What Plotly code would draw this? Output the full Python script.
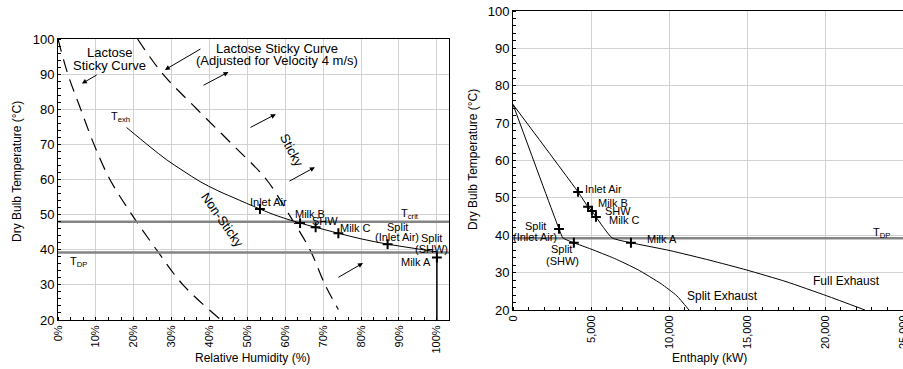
import plotly.graph_objects as go

W, H = 903, 369

# ---------------- Left chart data (Relative Humidity %) ----------------
RH_LACTOSE = [0, 2.6, 6, 9.5, 13.7, 19.5, 26, 33, 43]
T_LACTOSE = [100, 90, 80, 70, 60, 50, 40, 30, 20]

RH_ADJ = [21, 27.7, 36.7, 46, 55, 61, 66.5, 70.5, 74]
T_ADJ = [100, 90, 80, 70, 60, 50, 40, 30, 23]

RH_TEXH = [18.1, 24.3, 28.7, 33, 37.5, 42, 46.2, 53.3, 58, 63.9, 68, 74, 80, 87, 94, 100]
T_TEXH = [74.8, 69.3, 65.6, 62.5, 59.4, 56.9, 54.9, 51.6, 49.6, 47.6, 46.4, 44.7, 43.1, 41.6, 40.4, 39.4]

RH_POINTS = [53.3, 63.9, 68, 74, 87, 100]
T_POINTS_L = [51.6, 47.6, 46.4, 44.7, 41.6, 37.8]

RH_VLINE = [100, 100]
T_VLINE = [37.8, 20]

T_CRIT = 48
T_DP = 39.2

RH_TICKS = [0, 10, 20, 30, 40, 50, 60, 70, 80, 90, 100]
RH_TICKTEXT = ["0%", "10%", "20%", "30%", "40%", "50%", "60%", "70%", "80%", "90%", "100%"]

# ---------------- Right chart data (Enthalpy kW) ----------------
H_FULL = [0, 4170, 4810, 5060, 5320, 6350, 7560, 10060, 12630, 14980, 17500, 20110, 22560]
T_FULL = [75, 51.6, 47.6, 46.5, 44.9, 39.3, 38, 35.9, 33.3, 30.7, 27.6, 23.8, 20]

H_SPLIT = [0, 2950, 3200, 3900, 5000, 6500, 8000, 9500, 10500, 11280]
T_SPLIT = [75, 41.7, 39.3, 38, 36.3, 33.8, 30.8, 27.0, 23.8, 20]

H_POINTS = [4170, 4810, 5060, 5320, 7560, 2950, 3900]
T_POINTS_R = [51.6, 47.6, 46.5, 44.9, 38, 41.7, 38]

H_TICKS = [0, 5000, 10000, 15000, 20000, 25000]
H_TICKTEXT = ["0", "5,000", "10,000", "15,000", "20,000", "25,000"]

Y_TICKS = [20, 30, 40, 50, 60, 70, 80, 90, 100]

FONT = "Liberation Sans, Arial, sans-serif"

fig = go.Figure()

dash_k = dict(color="black", width=1.2, dash="13px,8px")
marker_k = dict(symbol="cross-thin", size=7, line=dict(color="black", width=2))

# Left traces
fig.add_trace(go.Scatter(x=RH_LACTOSE, y=T_LACTOSE, mode="lines", line=dict(**dash_k, shape="spline"),
                         xaxis="x", yaxis="y", showlegend=False, hoverinfo="skip"))
fig.add_trace(go.Scatter(x=RH_ADJ, y=T_ADJ, mode="lines", line=dict(**dash_k, shape="spline"),
                         xaxis="x", yaxis="y", showlegend=False, hoverinfo="skip"))
fig.add_trace(go.Scatter(x=[0, 103.2], y=[T_CRIT, T_CRIT], mode="lines", line=dict(color="#858585", width=2.5),
                         xaxis="x", yaxis="y", showlegend=False, hoverinfo="skip"))
fig.add_trace(go.Scatter(x=[0, 103.2], y=[T_DP, T_DP], mode="lines", line=dict(color="#858585", width=2.5),
                         xaxis="x", yaxis="y", showlegend=False, hoverinfo="skip"))
fig.add_trace(go.Scatter(x=RH_TEXH, y=T_TEXH, mode="lines", line=dict(color="black", width=1, shape="spline"),
                         xaxis="x", yaxis="y", showlegend=False, hoverinfo="skip"))
fig.add_trace(go.Scatter(x=RH_VLINE, y=T_VLINE, mode="lines", line=dict(color="black", width=1.5),
                         xaxis="x", yaxis="y", showlegend=False, hoverinfo="skip"))
fig.add_trace(go.Scatter(x=RH_POINTS, y=T_POINTS_L, mode="markers", marker=marker_k,
                         xaxis="x", yaxis="y", showlegend=False, hoverinfo="skip"))

# Right traces
fig.add_trace(go.Scatter(x=[0, 25000], y=[T_DP, T_DP], mode="lines", line=dict(color="#858585", width=2.5),
                         xaxis="x2", yaxis="y2", showlegend=False, hoverinfo="skip"))
fig.add_trace(go.Scatter(x=H_FULL, y=T_FULL, mode="lines", line=dict(color="black", width=1, shape="spline", smoothing=0.5),
                         xaxis="x2", yaxis="y2", showlegend=False, hoverinfo="skip"))
fig.add_trace(go.Scatter(x=H_SPLIT, y=T_SPLIT, mode="lines", line=dict(color="black", width=1, shape="spline", smoothing=0.5),
                         xaxis="x2", yaxis="y2", showlegend=False, hoverinfo="skip"))
fig.add_trace(go.Scatter(x=H_POINTS, y=T_POINTS_R, mode="markers", marker=marker_k,
                         xaxis="x2", yaxis="y2", showlegend=False, hoverinfo="skip"))

axis_common = dict(showline=True, linecolor="black", linewidth=1, mirror=True, automargin=False,
                   showgrid=True, gridcolor="#d2d2d2", gridwidth=1.2, zeroline=False,
                   ticks="", ticklabeloverflow="allow",
                   tickfont=dict(family=FONT, size=11, color="black"))
ytickfont = dict(family=FONT, size=13, color="black")

fig.update_layout(
    width=W, height=H,
    margin=dict(l=0, r=0, t=0, b=0, autoexpand=False),
    paper_bgcolor="white", plot_bgcolor="white",
    font=dict(family=FONT, color="black"),
    xaxis=dict(domain=[58 / W, 449 / W], range=[0, 103.2], tickvals=RH_TICKS, ticktext=RH_TICKTEXT,
               tickangle=-90, anchor="y",
               minor=dict(ticks="inside", ticklen=3, dtick=10 / 3, tick0=0, showgrid=False, tickcolor="black"),
               **axis_common),
    yaxis=dict(domain=[1 - 320 / H, 1 - 39 / H], range=[20, 100], tickvals=Y_TICKS, anchor="x",
               minor=dict(ticks="inside", ticklen=3, dtick=2, showgrid=False, tickcolor="black"),
               **{**axis_common, "tickfont": ytickfont}),
    xaxis2=dict(domain=[513 / W, 1.0], range=[0, 25000], tickvals=H_TICKS, ticktext=H_TICKTEXT,
                tickangle=-90, anchor="y2",
                minor=dict(ticks="inside", ticklen=3, dtick=1000, showgrid=False, tickcolor="black"),
                **axis_common),
    yaxis2=dict(domain=[1 - 310 / H, 1 - 11 / H], range=[20, 100], tickvals=Y_TICKS, anchor="x2",
                minor=dict(ticks="inside", ticklen=3, dtick=2, showgrid=False, tickcolor="black"),
                **{**axis_common, "tickfont": ytickfont}),
)

ann = []

def txt(x, y, s, size=11, xref="x", yref="y", angle=0, xanchor="center"):
    ann.append(dict(x=x, y=y, text=s, xref=xref, yref=yref, showarrow=False, textangle=angle,
                    xanchor=xanchor, yanchor="middle", font=dict(family=FONT, size=size, color="black")))

def arrow(x0, y0, x1, y1):
    ann.append(dict(x=x1, y=y1, ax=x0, ay=y0, xref="x", yref="y", axref="x", ayref="y",
                    text="", showarrow=True, arrowhead=2, arrowsize=1, arrowwidth=1, arrowcolor="black"))

# Left labels
txt(13.7, 96.1, "Lactose", 13)
txt(13.7, 92.5, "Sticky Curve", 13)
txt(57.8, 97.4, "Lactose Sticky Curve", 13)
txt(57.8, 93.9, "(Adjusted for Velocity 4 m/s)", 13)
txt(16.4, 77.8, "T<sub>exh</sub>", 11)
txt(61.5, 68.4, "Sticky", 13, angle=62)
txt(43.3, 48.6, "Non-Sticky", 13, angle=55)
txt(55.6, 53.6, "Inlet Air", 11)
txt(66.5, 50.1, "Milk B", 11)
txt(70.4, 48.3, "SHW", 11)
txt(78.6, 46.2, "Milk C", 11)
txt(93.0, 50.1, "T<sub>crit</sub>", 11)
txt(89.7, 46.4, "Split", 11)
txt(89.5, 43.6, "(Inlet Air)", 11)
txt(98.5, 43.3, "Split", 11)
txt(98.7, 40.2, "(SHW)", 11)
txt(94.6, 36.5, "Milk A", 11)
txt(5.3, 36.5, "T<sub>DP</sub>", 11)

arrow(10.6, 90.0, 6.3, 87.3)
arrow(38.0, 97.4, 28.2, 91.2)
arrow(38.0, 86.6, 45.0, 90.6)
arrow(50.4, 74.6, 57.5, 78.6)
arrow(60.7, 59.3, 67.8, 63.5)
arrow(73.6, 31.9, 80.5, 36.2)

# Right labels
def txt2(x, y, s, size=11, xanchor="center"):
    txt(x, y, s, size, xref="x2", yref="y2", xanchor=xanchor)

txt2(5800, 52.4, "Inlet Air")
txt2(6400, 48.7, "Milk B")
txt2(6750, 46.6, "SHW")
txt2(7150, 44.1, "Milk C")
txt2(9550, 39.0, "Milk A")
txt2(1450, 42.5, "Split")
txt2(1400, 39.6, "(Inlet Air)")
txt2(3080, 36.4, "Split")
txt2(3200, 33.2, "(SHW)")
txt2(21400, 27.8, "Full Exhaust", 12)
txt2(13450, 23.8, "Split Exhaust", 12)
txt2(23650, 40.7, "T<sub>DP</sub>", 11)

# Axis titles
def title(xp, yp, s, angle=0):
    ann.append(dict(x=xp / W, y=1 - yp / H, xref="paper", yref="paper", text=s, showarrow=False,
                    textangle=angle, xanchor="center", yanchor="middle",
                    font=dict(family=FONT, size=12, color="black")))

title(17, 172, "Dry Bulb Temperature (°C)", -90)
title(473, 160, "Dry Bulb Temperature (°C)", -90)
title(252, 358, "Relative Humidity (%)")
title(709, 358, "Enthaply (kW)")

fig.update_layout(annotations=ann)

fig.write_html("out.html", config={"displayModeBar": False},
               post_script="document.body.style.margin='0px';")
